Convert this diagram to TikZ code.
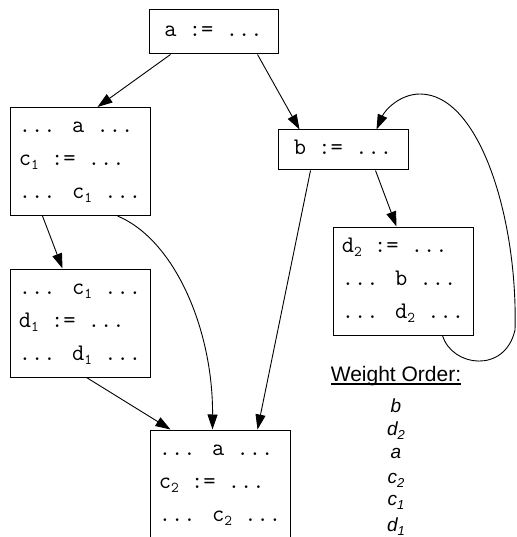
\documentclass[tikz,border=0pt]{standalone}
\usepackage{fontspec}
\setmainfont{Liberation Sans}
\newfontfamily\monofam{Latin Modern Mono}
\usetikzlibrary{arrows.meta}
\newcommand\cl[1]{\hbox{\rule[-7pt]{0pt}{23pt}#1}}
\newcommand\sbs[1]{\raisebox{-4pt}{\fontsize{15}{15}\selectfont #1}}
\newcommand\sbi[1]{\raisebox{-4pt}{\fontsize{13}{13}\selectfont #1}}
\newcommand\threelines[3]{\vbox{\baselineskip=33pt\lineskiplimit=-100pt\lineskip=0pt\cl{#1}\cl{#2}\cl{#3}}}
\newcommand\ulword[1]{\setbox0\hbox{#1}\rlap{\rule[-3.5pt]{\wd0}{1.1pt}}\box0}
\tikzset{
  codebox/.style={draw, line width=1pt, inner sep=0pt, font=\monofam\fontsize{23.8}{33}\selectfont},
  bigbox/.style={codebox, minimum width=140pt, minimum height=108pt},
  arr/.style={line width=0.9pt, -{Triangle[length=15pt,width=10pt]}},
  wotitle/.style={anchor=base, inner sep=0pt, font=\fontsize{21}{21}\selectfont},
  woitem/.style={anchor=base, inner sep=0pt, font=\itshape\fontsize{19}{19}\selectfont}
}
\begin{document}
\begin{tikzpicture}[x=1pt,y=-1pt]
\useasboundingbox (0,0) rectangle (516,537);
% boxes
\node[codebox, minimum width=129pt, minimum height=44pt] (a) at (213.5,32) {\cl{a := ...}};
\node[codebox, minimum width=130pt, minimum height=40pt] (b) at (343,150) {\cl{b := ...}};
\node[bigbox] (c1) at (80,161.5) {\threelines{... a ...}{c\sbs{1} := ...}{... c\sbs{1} ...}};
\node[bigbox] (d1) at (80,323) {\threelines{... c\sbs{1} ...}{d\sbs{1} := ...}{... d\sbs{1} ...}};
\node[bigbox] (d2) at (403,281) {\threelines{d\sbs{2} := ...}{... b ...}{... d\sbs{2} ...}};
\node[bigbox] (c2) at (220,484) {\threelines{... a ...}{c\sbs{2} := ...}{... c\sbs{2} ...}};
% connectors
\draw[arr] ([xshift=22pt]a.south west) -- ([xshift=88pt]c1.north west);
\draw[arr] ([xshift=109pt]a.south west) -- ([xshift=22pt]b.north west);
\draw[arr] ([xshift=33pt]c1.south west) -- ([xshift=53pt]d1.north west);
\draw[arr] ([xshift=108pt]c1.south west) .. controls (175,240) and (213,330) .. ([xshift=63pt]c2.north west);
\draw[arr] ([xshift=33pt]b.south west) -- ([xshift=108pt]c2.north west);
\draw[arr] ([xshift=98pt]b.south west) -- ([xshift=64pt]d2.north west);
\draw[arr] ([xshift=77pt]d1.south west) -- ([xshift=21pt]c2.north west);
\draw[arr] ([xshift=110pt]d2.south west) .. controls (452,367) and (505,374) .. (515,330)
  .. controls (518,220) and (480,94) .. (420,94)
  .. controls (400,94) and (385,110) .. ([xshift=99pt]b.north west);
% weight order
\node[wotitle] (wt) at (396,381) {\ulword{Weight Order:}};
\node[woitem] (w1) at (396,412) {b};
\node[woitem] (w2) at (396,435) {d\sbi{2}};
\node[woitem] (w3) at (396,458) {a};
\node[woitem] (w4) at (396,483) {c\sbi{2}};
\node[woitem] (w5) at (396,505) {c\sbi{1}};
\node[woitem] (w6) at (396,531) {d\sbi{1}};
\end{tikzpicture}
\end{document}
